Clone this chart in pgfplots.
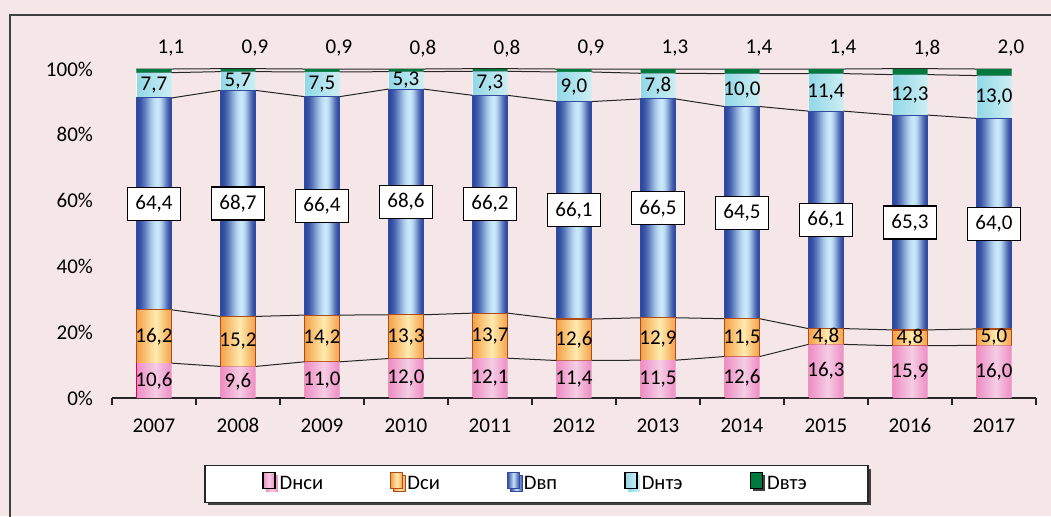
\documentclass[border=0pt]{standalone}
\usepackage{pgfplots}
\pgfplotsset{compat=1.18}
\usepackage{pgfplotstable}
\usepackage{fontspec}
\setmainfont{Carlito}
\usetikzlibrary{shadows}

\definecolor{bgpink}{RGB}{245,230,231}
\definecolor{nsiEdge}{RGB}{238,140,195}
\definecolor{nsiMid}{RGB}{245,205,228}
\definecolor{siEdge}{RGB}{245,160,70}
\definecolor{siMid}{RGB}{255,235,175}
\definecolor{siLine}{RGB}{176,74,24}
\definecolor{vpEdge}{RGB}{50,75,160}
\definecolor{vpMid}{RGB}{200,230,250}
\definecolor{ntLeft}{RGB}{145,216,230}
\definecolor{ntRight}{RGB}{205,238,244}
\definecolor{vte}{RGB}{0,121,62}

% Horizontal gradients repeated once per bar. The path's bounding box is
% mapped onto -25bp..25bp; it spans all 11 bars of a series (437.5pt):
% one period = 42pt -> 4.8bp, one bar = 17.5pt -> 2bp.
% t = position inside the bar (0 left edge, 1 right edge)
% s = min(t/p,(1-t)/(1-p)) = 0 at the edges, 1 at the peak p
\pgfdeclarefunctionalshading{vpshade}{\pgfpoint{-50bp}{-50bp}}{\pgfpoint{50bp}{50bp}}{}{%
  pop 25 add 4.8 div dup floor sub 2.4 mul
  dup 0.6 div exch 1 exch sub 0.4 div 2 copy sub abs 3 1 roll add exch sub 2 div
  dup dup mul exch 2 mul 3 exch sub mul
  dup dup
  0.353 mul 0.627 add
  exch 0.627 mul 0.282 add
  exch 3 -1 roll 0.608 mul 0.176 add 3 1 roll
}
\pgfdeclarefunctionalshading{nsishade}{\pgfpoint{-50bp}{-50bp}}{\pgfpoint{50bp}{50bp}}{}{%
  pop 25 add 4.8 div dup floor sub 2.4 mul
  dup 0.55 div exch 1 exch sub 0.45 div 2 copy sub abs 3 1 roll add exch sub 2 div
  dup dup
  0.129 mul 0.765 add
  exch 0.255 mul 0.549 add
  exch 3 -1 roll 0.027 mul 0.933 add 3 1 roll
}
\pgfdeclarefunctionalshading{sishade}{\pgfpoint{-50bp}{-50bp}}{\pgfpoint{50bp}{50bp}}{}{%
  pop 25 add 4.8 div dup floor sub 2.4 mul
  dup 0.55 div exch 1 exch sub 0.45 div 2 copy sub abs 3 1 roll add exch sub 2 div
  dup dup
  0.412 mul 0.275 add
  exch 0.294 mul 0.627 add
  exch 3 -1 roll 0.039 mul 0.961 add 3 1 roll
}
\pgfdeclarefunctionalshading{ntshade}{\pgfpoint{-50bp}{-50bp}}{\pgfpoint{50bp}{50bp}}{}{%
  pop 25 add 4.8 div dup floor sub 2.4 mul
  dup dup
  0.055 mul 0.902 add
  exch 0.086 mul 0.847 add
  exch 3 -1 roll 0.235 mul 0.569 add 3 1 roll
}

% shares by year: a = Dнси, b = Dси, c = Dвп, d = Dнтэ, e = Dвтэ
\pgfplotstableread{
x  a    b    c    d    e
0  10.6 16.2 64.4 7.7  1.1
1  9.6  15.2 68.7 5.7  0.9
2  11.0 14.2 66.4 7.5  0.9
3  12.0 13.3 68.6 5.3  0.8
4  12.1 13.7 66.2 7.3  0.8
5  11.4 12.6 66.1 9.0  0.9
6  11.5 12.9 66.5 7.8  1.3
7  12.6 11.5 64.5 10.0 1.4
8  16.3 4.8  66.1 11.4 1.4
9  15.9 4.8  65.3 12.3 1.8
10 16.0 5.0  64.0 13.0 2.0
}\shares

% same values at the left and right bar edges, for the series lines
\pgfplotstableread{
x     a    b    c    d    e
-0.21 10.6 16.2 64.4 7.7  1.1
0.21  10.6 16.2 64.4 7.7  1.1
0.79  9.6  15.2 68.7 5.7  0.9
1.21  9.6  15.2 68.7 5.7  0.9
1.79  11.0 14.2 66.4 7.5  0.9
2.21  11.0 14.2 66.4 7.5  0.9
2.79  12.0 13.3 68.6 5.3  0.8
3.21  12.0 13.3 68.6 5.3  0.8
3.79  12.1 13.7 66.2 7.3  0.8
4.21  12.1 13.7 66.2 7.3  0.8
4.79  11.4 12.6 66.1 9.0  0.9
5.21  11.4 12.6 66.1 9.0  0.9
5.79  11.5 12.9 66.5 7.8  1.3
6.21  11.5 12.9 66.5 7.8  1.3
6.79  12.6 11.5 64.5 10.0 1.4
7.21  12.6 11.5 64.5 10.0 1.4
7.79  16.3 4.8  66.1 11.4 1.4
8.21  16.3 4.8  66.1 11.4 1.4
8.79  15.9 4.8  65.3 12.3 1.8
9.21  15.9 4.8  65.3 12.3 1.8
9.79  16.0 5.0  64.0 13.0 2.0
10.21 16.0 5.0  64.0 13.0 2.0
}\edges

\pgfplotsset{
  /pgf/number format/assume math mode=true,
  base/.style={
    at={(56pt,-199pt)}, anchor=south west,
    scale only axis, width=462pt, height=164.5pt,
    xmin=-0.5, xmax=10.5, ymin=0, ymax=100,
    enlargelimits=false,
  },
  sline/.style={black!85, line width=0.5pt, no marks},
}

\begin{document}
\begin{tikzpicture}
\path[use as bounding box, fill=bgpink] (0,0) rectangle (525.5pt,-258pt);
\draw[black!75, line width=1pt] (5pt,-262pt) -- (5pt,-7.5pt) -- (530pt,-7.5pt);

% series lines, behind the bars
\begin{axis}[base, hide axis, clip=false]
  \addplot[sline] table[x=x, y=a] {\edges};
  \addplot[sline] table[x=x, y expr=\thisrow{a}+\thisrow{b}] {\edges};
  \addplot[sline] table[x=x, y expr=\thisrow{a}+\thisrow{b}+\thisrow{c}] {\edges};
  \addplot[sline] table[x=x, y expr=\thisrow{a}+\thisrow{b}+\thisrow{c}+\thisrow{d}] {\edges};
  \addplot[sline] table[x=x, y expr=\thisrow{a}+\thisrow{b}+\thisrow{c}+\thisrow{d}+\thisrow{e}] {\edges};
\end{axis}

% stacked bars
\begin{axis}[base,
  ybar stacked, bar width=17.5pt,
  axis x line*=bottom, axis y line*=left,
  y axis line style={draw=none},
  x axis line style={black!85, line width=0.6pt},
  xtick={-0.5,0.5,...,10.5},
  xticklabels={2007,2008,2009,2010,2011,2012,2013,2014,2015,2016,2017},
  x tick label as interval,
  tick align=outside, major tick length=3.5pt,
  xtick style={black!85, line width=0.6pt},
  ytick={0,20,...,100}, ytick style={draw=none},
  yticklabel={\pgfmathprintnumber{\tick}\%},
  yticklabel style={xshift=-2.5pt},
  xticklabel style={anchor=base, yshift=-13.5pt},
  tick label style={font=\fontsize{10.5}{12}\selectfont},
  ybar legend/.style={legend image code/.code={\draw[##1] (0pt,-3.25pt) rectangle (4.5pt,3.25pt);}},
  legend columns=5,
  legend style={
    at={(0.4594,-0.2614)}, anchor=center,
    draw=black!85, line width=0.8pt, fill=white,
    font=\fontsize{10.3}{12}\selectfont,
    inner xsep=28.5pt, inner ysep=3pt,
    /tikz/every even column/.append style={column sep=31.5pt},
    drop shadow={shadow xshift=1.5pt, shadow yshift=-1.5pt, fill=black!75, opacity=1},
  },
]
  \addplot[forget plot, draw=none, shading=nsishade] table[x=x, y=a] {\shares};
  \addplot[forget plot, draw=siLine, line width=0.6pt, shading=sishade] table[x=x, y=b] {\shares};
  \addplot[forget plot, draw=vpEdge, line width=0.5pt, shading=vpshade] table[x=x, y=c] {\shares};
  \addplot[forget plot, draw=none, shading=ntshade] table[x=x, y=d] {\shares};
  \addplot[forget plot, draw=none, fill=vte] table[x=x, y=e] {\shares};

  \addlegendimage{draw=none, left color=nsiEdge, right color=nsiEdge, middle color=nsiMid}
  \addlegendentry{Dнси}
  \addlegendimage{draw=siLine, line width=0.6pt, left color=siEdge, right color=siEdge, middle color=siMid}
  \addlegendentry{Dси}
  \addlegendimage{draw=vpEdge, line width=0.5pt, left color=vpEdge, right color=vpEdge, middle color=vpMid}
  \addlegendentry{Dвп}
  \addlegendimage{draw=none, left color=ntLeft, right color=ntRight}
  \addlegendentry{Dнтэ}
  \addlegendimage{draw=none, fill=vte}
  \addlegendentry{Dвтэ}
\end{axis}

% data labels
\begin{axis}[base, hide axis, clip=false,
  point meta=explicit,
  nodes near coords={\pgfmathprintnumber[fixed, fixed zerofill, precision=1, use comma]{\pgfplotspointmeta}},
  every node near coord/.append style={anchor=center, text=black, font=\fontsize{10.5}{12}\selectfont},
]
  \addplot[draw=none, no marks] table[x=x, y expr=\thisrow{a}/2, meta=a] {\shares};
  \addplot[draw=none, no marks] table[x=x, y expr=\thisrow{a}+\thisrow{b}/2, meta=b] {\shares};
  \addplot[draw=none, no marks,
    every node near coord/.append style={draw=black, fill=white, line width=0.6pt,
      minimum width=26.5pt, minimum height=16.5pt, inner xsep=3pt}]
    table[x=x, y expr=\thisrow{a}+\thisrow{b}+\thisrow{c}/2, meta=c] {\shares};
  \addplot[draw=none, no marks]
    table[x=x, y expr=\thisrow{a}+\thisrow{b}+\thisrow{c}+\thisrow{d}/2, meta=d] {\shares};
  \addplot[draw=none, no marks, every node near coord/.append style={xshift=8.5pt, yshift=10.25pt}]
    table[x=x, y expr=\thisrow{a}+\thisrow{b}+\thisrow{c}+\thisrow{d}+\thisrow{e}, meta=e] {\shares};
\end{axis}
\end{tikzpicture}
\end{document}
